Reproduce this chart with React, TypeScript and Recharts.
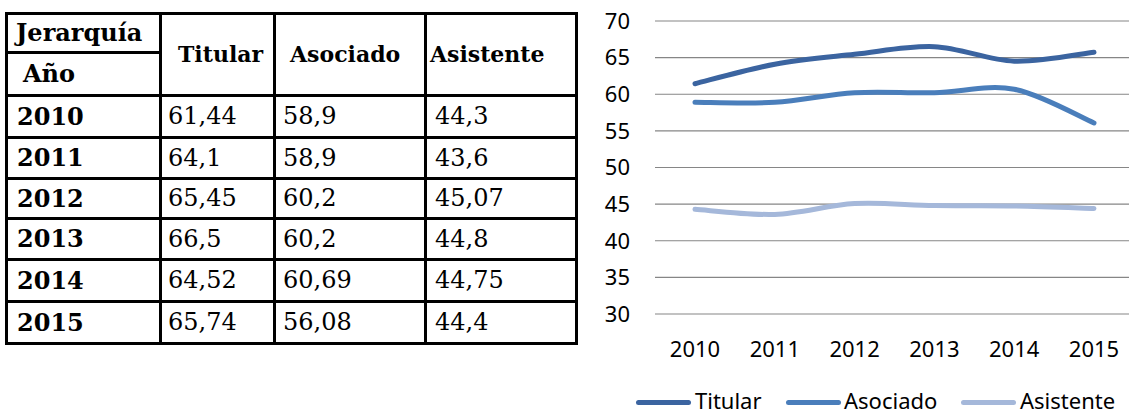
import React from 'react';
import { LineChart, Line, XAxis, YAxis, CartesianGrid } from 'recharts';

const years = ['2010', '2011', '2012', '2013', '2014', '2015'];
const titular = [61.44, 64.1, 65.45, 66.5, 64.52, 65.74];
const asociado = [58.9, 58.9, 60.2, 60.2, 60.69, 56.08];
const asistente = [44.3, 43.6, 45.07, 44.8, 44.75, 44.4];
const yTicks = [30, 35, 40, 45, 50, 55, 60, 65, 70];

const series = [
  { key: 'Titular', values: titular, color: '#3b64a0' },
  { key: 'Asociado', values: asociado, color: '#4a7ebb' },
  { key: 'Asistente', values: asistente, color: '#a5b8da' },
];

const data = years.map((y, i) => ({
  year: y,
  Titular: titular[i],
  Asociado: asociado[i],
  Asistente: asistente[i],
}));

// Catmull-Rom style smoothing (like Excel's smoothed line)
function smoothCurve(context: any) {
  let pts: number[][] = [];
  return {
    areaStart() {},
    areaEnd() {},
    lineStart() {
      pts = [];
    },
    point(x: number, y: number) {
      pts.push([+x, +y]);
    },
    lineEnd() {
      const n = pts.length;
      if (!n) return;
      context.moveTo(pts[0][0], pts[0][1]);
      for (let i = 0; i < n - 1; i++) {
        const p0 = pts[i - 1] || pts[i];
        const p1 = pts[i];
        const p2 = pts[i + 1];
        const p3 = pts[i + 2] || p2;
        const c1x = p1[0] + (p2[0] - p0[0]) / 6;
        const c1y = p1[1] + (p2[1] - p0[1]) / 6;
        const c2x = p2[0] - (p3[0] - p1[0]) / 6;
        const c2y = p2[1] - (p3[1] - p1[1]) / 6;
        context.bezierCurveTo(c1x, c1y, c2x, c2y, p2[0], p2[1]);
      }
    },
  };
}

const fmt = (v: number) => String(v).replace('.', ',');

const serif = '"DejaVu Serif", serif';
const sans = '"Noto Sans", sans-serif';

const hLines = [13, 95, 137, 178, 218, 259, 301, 343];
const vLines = [6, 160, 274, 425, 576];
const rowTops = [95, 137, 178, 218, 259, 301];
const rowBottoms = [137, 178, 218, 259, 301, 343];
const colText = [17, 168, 283, 435];
const B = 3;

function Cell({ left, top, bottom, text, bold, size }: any) {
  return (
    <div
      style={{
        position: 'absolute',
        left,
        top,
        height: bottom - top,
        display: 'flex',
        alignItems: 'center',
        fontFamily: serif,
        fontWeight: bold ? 700 : 400,
        fontSize: size,
        color: '#000',
        whiteSpace: 'nowrap',
      }}
    >
      {text}
    </div>
  );
}

function Table() {
  const els: any[] = [];
  const half = Math.floor(B / 2);
  hLines.forEach((y, i) =>
    els.push(
      <div key={'h' + i} style={{ position: 'absolute', left: vLines[0] - half, top: y - half, width: vLines[4] - vLines[0] + B, height: B, background: '#000' }} />
    )
  );
  els.push(
    <div key="hsub" style={{ position: 'absolute', left: vLines[0] - half, top: 52 - half, width: vLines[1] - vLines[0] + B, height: B, background: '#000' }} />
  );
  vLines.forEach((x, i) =>
    els.push(
      <div key={'v' + i} style={{ position: 'absolute', left: x - half, top: hLines[0] - half, width: B, height: hLines[7] - hLines[0] + B, background: '#000' }} />
    )
  );
  els.push(<Cell key="jer" left={16} top={13} bottom={52} text="Jerarquía" bold size={24} />);
  els.push(<Cell key="ano" left={23} top={52} bottom={95} text="Año" bold size={24} />);
  const headLeft = [178, 290, 430];
  series.forEach((s, i) =>
    els.push(<Cell key={'hd' + i} left={headLeft[i]} top={13} bottom={95} text={s.key} bold size={22} />)
  );
  years.forEach((y, r) => {
    els.push(<Cell key={'y' + r} left={colText[0]} top={rowTops[r]} bottom={rowBottoms[r]} text={y} bold size={24} />);
    series.forEach((s, c) =>
      els.push(
        <Cell key={'c' + r + '_' + c} left={colText[c + 1]} top={rowTops[r]} bottom={rowBottoms[r]} text={fmt(s.values[r])} size={24} />
      )
    );
  });
  return <>{els}</>;
}

const legendSwatch = [636, 786, 961];
const legendText = [695, 844, 1020];

export default function App() {
  return (
    <div style={{ position: 'absolute', left: 0, top: 0, width: 1129, height: 414, overflow: 'hidden', background: '#fff' }}>
      <Table />
      <div style={{ position: 'absolute', left: 590, top: 0 }}>
        <LineChart width={539} height={414} data={data} margin={{ top: 21, right: 0, bottom: 60, left: 0 }}>
          <CartesianGrid vertical={false} stroke="#868686" strokeWidth={1.2} />
          <XAxis
            dataKey="year"
            axisLine={false}
            tickLine={false}
            tickSize={0}
            tickMargin={27}
            height={40}
            interval={0}
            padding={{ left: 40, right: 35 }}
            tick={{ fontFamily: sans, fontSize: 22, fill: '#000' }}
          />
          <YAxis
            domain={[30, 70]}
            ticks={yTicks}
            axisLine={false}
            tickLine={false}
            tickSize={0}
            tickMargin={25}
            width={65}
            interval={0}
            tick={{ fontFamily: sans, fontSize: 22, fill: '#000' }}
          />
          {series.map((s) => (
            <Line
              key={s.key}
              dataKey={s.key}
              type={smoothCurve as any}
              stroke={s.color}
              strokeWidth={5}
              strokeLinecap="round"
              dot={false}
              activeDot={false}
              isAnimationActive={false}
            />
          ))}
        </LineChart>
      </div>
      {series.map((s, i) => (
        <React.Fragment key={'lg' + i}>
          <div style={{ position: 'absolute', left: legendSwatch[i], top: 400, width: 55, height: 5, borderRadius: 3, background: s.color }} />
          <div style={{ position: 'absolute', left: legendText[i], top: 386, lineHeight: '28px', fontFamily: sans, fontSize: 22, color: '#000', whiteSpace: 'nowrap' }}>
            {s.key}
          </div>
        </React.Fragment>
      ))}
    </div>
  );
}
